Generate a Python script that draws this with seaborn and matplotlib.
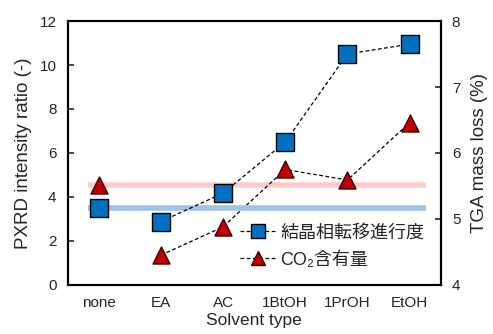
import matplotlib
matplotlib.use('Agg')
import matplotlib.pyplot as plt
import seaborn as sns
import pandas as pd
from matplotlib.lines import Line2D

solvents = ['none', 'EA', 'AC', '1BtOH', '1PrOH', 'EtOH']
pxrd_ratio = [3.5, 2.88, 4.17, 6.5, 10.5, 10.95]
tga_loss = [5.52, 4.45, 4.88, 5.75, 5.59, 6.46]
pxrd_ref = 3.48
tga_ref = 5.52

sns.set_style('ticks')
plt.rcParams['font.family'] = ['Liberation Sans', 'Noto Sans CJK JP', 'DejaVu Sans']

df = pd.DataFrame({'solvent': pd.Categorical(solvents, categories=solvents, ordered=True),
                   'pxrd': pxrd_ratio, 'tga': tga_loss})

fig = plt.figure(figsize=(4.93, 3.34), dpi=100)
ax = fig.add_axes([0.137, 0.147, 0.757, 0.79])
ax2 = ax.twinx()
ax.set_zorder(ax2.get_zorder() + 1)
ax.patch.set_visible(False)

blue = '#0070C0'
red = '#C00000'

# markers first so the category order is fixed
sns.scatterplot(data=df, x='solvent', y='pxrd', ax=ax, marker='s', s=150,
                color=blue, edgecolor='black', linewidth=1, zorder=3)
sns.scatterplot(data=df, x='solvent', y='tga', ax=ax2, marker='^', s=150,
                color=red, edgecolor='#400000', linewidth=1, zorder=3)

# dashed lines only between solvent-treated samples
sub = df.iloc[1:]
sns.lineplot(data=sub, x='solvent', y='pxrd', ax=ax, color='black', lw=0.9,
             linestyle=(0, (3, 2)), sort=False, zorder=2)
sns.lineplot(data=sub, x='solvent', y='tga', ax=ax2, color='black', lw=0.9,
             linestyle=(0, (3, 2)), sort=False, zorder=2)

# reference bands
ax.hlines(pxrd_ref, -0.17, 5.27, color='#9DC3E6', lw=4, zorder=1)
ax2.hlines(tga_ref, -0.17, 5.27, color='#FFCCCC', lw=4, zorder=1)

ax.set_xlim(-0.5, 5.5)
ax.set_ylim(0, 12)
ax.set_yticks(range(0, 13, 2))
ax2.set_ylim(4, 8)
ax2.set_yticks(range(4, 9))

ax.set_xlabel('Solvent type', fontsize=12.5, labelpad=2)
ax.set_ylabel('PXRD intensity ratio (-)', fontsize=13.5, labelpad=5)
ax2.set_ylabel('TGA mass loss (%)', fontsize=13.5, labelpad=8)

ax.tick_params(axis='y', direction='in', length=4, width=1.2, labelsize=11, pad=8)
ax2.tick_params(axis='y', direction='in', length=4, width=1.2, labelsize=11, pad=8)
ax.tick_params(axis='x', length=0, labelsize=11, pad=8)
for a in (ax, ax2):
    for sp in a.spines.values():
        sp.set_linewidth(1.5)
        sp.set_color('black')

handles = [
    Line2D([], [], color='black', lw=0.9, linestyle=(0, (3, 2)), marker='s',
           markersize=10, markerfacecolor=blue, markeredgecolor='black'),
    Line2D([], [], color='black', lw=0.9, linestyle=(0, (3, 2)), marker='^',
           markersize=10, markerfacecolor=red, markeredgecolor='#400000'),
]
ax.legend(handles, ['結晶相転移進行度', 'CO₂含有量'], loc='lower right',
          frameon=False, fontsize=13, handlelength=2.0, handletextpad=0.25,
          labelspacing=0.55, borderaxespad=0.5)

fig.savefig('out.png', dpi=100)
